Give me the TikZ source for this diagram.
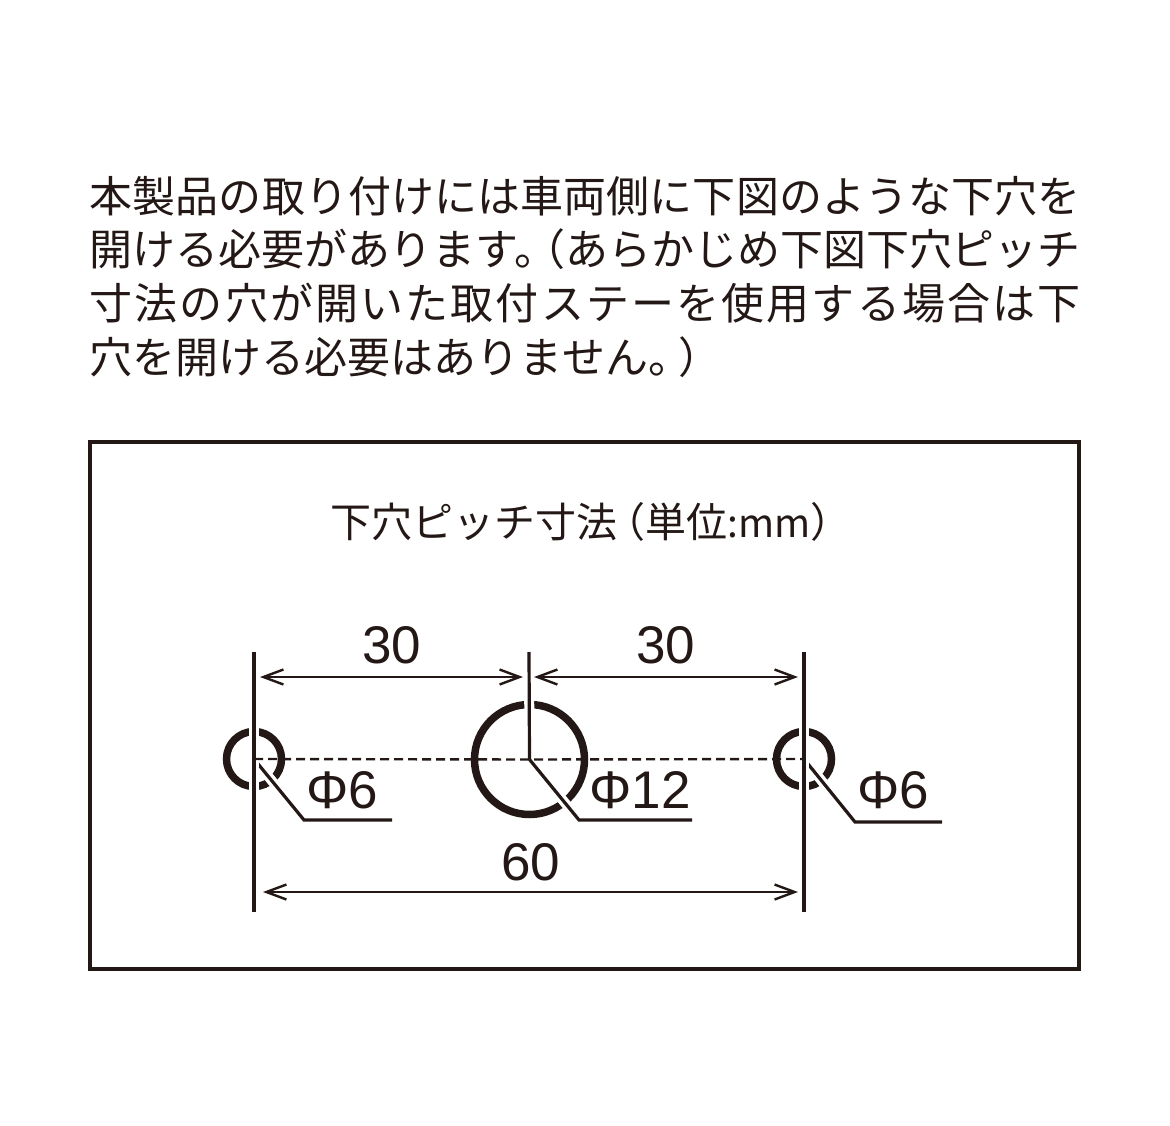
\documentclass[tikz,border=0pt]{standalone}
\usepackage{fontspec}
\setmainfont{Liberation Sans}
\newfontfamily\jpfont{Noto Sans CJK JP}
\usetikzlibrary{arrows.meta}
\definecolor{ink}{HTML}{231815}
\XeTeXlinebreaklocale "ja"
\XeTeXlinebreakskip=0pt plus 4pt minus 0.5pt
\tikzstyle{hole} = [circle, draw=ink, line width=7.5pt, inner sep=0pt, outer sep=0pt]
\tikzstyle{frame} = [rectangle, draw=ink, line width=4pt, minimum width=989pt, minimum height=527pt, outer sep=0pt]
\tikzstyle{dimtext} = [text=ink, inner sep=0pt, font=\fontsize{53}{53}\selectfont]
\tikzstyle{wline} = [draw=ink, line width=3.2pt, preaction={draw=white, line width=10pt}]
\tikzstyle{dim} = [draw=ink, line width=2.4pt, {Straight Barb[length=20pt,width=15pt,line width=2.4pt]}-{Straight Barb[length=20pt,width=15pt,line width=2.4pt]}]

\begin{document}
\begin{tikzpicture}
  \useasboundingbox (0pt, 0pt) rectangle (1170pt, -1126pt);
  \draw (89.5pt, -176pt)node[anchor=north west, inner sep=0pt, text=ink, text width=991pt, align=justify, font=\jpfont\fontsize{43}{53.6}\selectfont](intro){本製品の取り付けには車両側に下図のような下穴を\linebreak 開ける必要があります。\kern-.8em（あらかじめ下図下穴ピッチ\linebreak 寸法の穴が開いた取付ステーを使用する場合は下\linebreak 穴を開ける必要はありません。\kern-.3em）};
  \draw (591pt, -522pt)node[text=ink, inner sep=0pt, font=\jpfont\fontsize{41}{41}\selectfont](title){下穴ピッチ寸法\kern-.3em（単位{\fontsize{39}{39}\selectfont:mm}）};
  \draw (584.5pt, -705.5pt)node[frame](box){};
  % holes
  \draw (254pt, -759pt)node[hole, minimum size=55pt](h0){};
  \draw (529.5pt, -759.5pt)node[hole, minimum size=110pt](h1){};
  \draw (804pt, -759pt)node[hole, minimum size=55pt](h2){};
  % ends of the lines
  \coordinate (t0) at (254pt, -652pt);
  \coordinate (t1) at (529pt, -652pt);
  \coordinate (t2) at (804pt, -652pt);
  \coordinate (b0) at (254pt, -912pt);
  \coordinate (b2) at (804pt, -912pt);
  \coordinate (e0) at (304pt, -820pt);
  \coordinate (f0) at (392pt, -820pt);
  \coordinate (e1) at (579pt, -820pt);
  \coordinate (f1) at (692pt, -820pt);
  \coordinate (e2) at (855pt, -822pt);
  \coordinate (f2) at (942pt, -822pt);
  \coordinate (a0) at (260pt, -677pt);
  \coordinate (a1) at (523pt, -677pt);
  \coordinate (a2) at (534pt, -677pt);
  \coordinate (a3) at (798pt, -677pt);
  \coordinate (c0) at (263pt, -892pt);
  \coordinate (c1) at (798pt, -892pt);
  % leaders, then the upright lines over them
  \draw[wline] (h0.center) -- (e0) -- (f0);
  \draw[wline] (h2.center) -- (e2) -- (f2);
  \draw[wline] (t0) -- (b0);
  \draw[wline] (t1) -- (h1.center);
  \draw[wline] (t2) -- (b2);
  \draw[draw=ink, line width=3.2pt, preaction={draw=white, line width=10pt, shorten <=9pt}] (h1.center) -- (e1) -- (f1);
  \draw[draw=ink, line width=2.4pt, dash pattern=on 9pt off 5pt] (h0.center) -- (h1.center) -- (h2.center);
  % dimensions
  \path (a0) edge[dim] node[dimtext, above=12pt]{30} (a1);
  \path (a2) edge[dim] node[dimtext, above=12pt]{30} (a3);
  \path (c0) edge[dim] node[dimtext, above=10pt]{60} (c1);
  \draw (342pt, -790pt)node[dimtext](d0){Φ6};
  \draw (640pt, -790pt)node[dimtext](d1){Φ12};
  \draw (893pt, -790pt)node[dimtext](d2){Φ6};
\end{tikzpicture}
\end{document}
